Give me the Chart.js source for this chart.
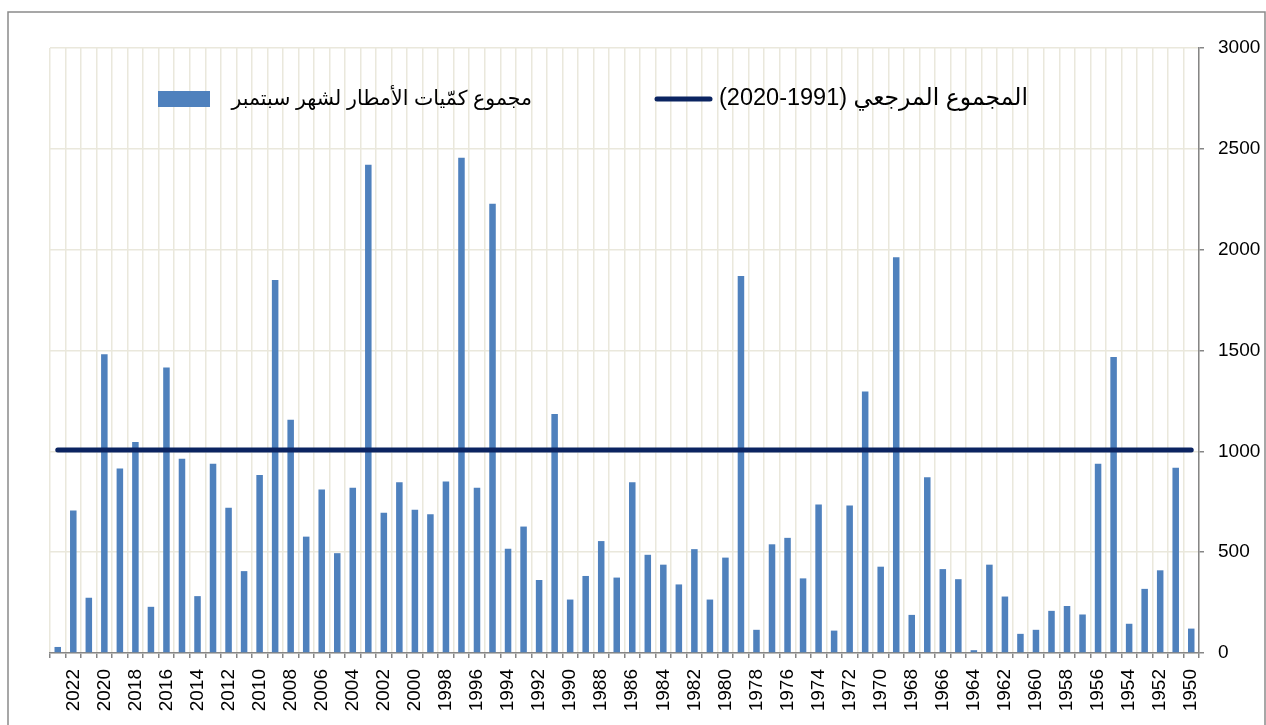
<!DOCTYPE html>
<html>
<head>
<meta charset="utf-8">
<script src="https://cdn.jsdelivr.net/npm/chart.js@4.4.1/dist/chart.umd.min.js"></script>
<style>
  html, body { margin: 0; padding: 0; background: #ffffff; }
  #wrap { width: 1266px; height: 725px; position: relative; }
  canvas { display: block; }
</style>
</head>
<body>
<div id="wrap"><canvas id="c" width="1266" height="725"></canvas></div>
<script>
// Categories (years, left to right as in the reference)
const years = [
  '2023','2022','2021','2020','2019','2018','2017','2016','2015','2014',
  '2013','2012','2011','2010','2009','2008','2007','2006','2005','2004',
  '2003','2002','2001','2000','1999','1998','1997','1996','1995','1994',
  '1993','1992','1991','1990','1989','1988','1987','1986','1985','1984',
  '1983','1982','1981','1980','1979','1978','1977','1976','1975','1974',
  '1973','1972','1971','1970','1969','1968','1967','1966','1965','1964',
  '1963','1962','1961','1960','1959','1958','1957','1956','1955','1954',
  '1953','1952','1951','1950'
];

// September rainfall totals
const septemberTotals = [
  30, 706, 274, 1482, 915, 1046, 229, 1416, 963, 282,
  939, 720, 406, 883, 1850, 1156, 577, 811, 495, 819,
  2421, 696, 847, 710, 688, 851, 2456, 819, 2228, 517,
  627, 362, 1185, 265, 382, 555, 374, 847, 487, 438,
  340, 515, 265, 473, 1870, 115, 539, 571, 370, 736,
  111, 732, 1297, 428, 1963, 189, 871, 416, 366, 14,
  438, 280, 95, 115, 209, 233, 191, 939, 1468, 145,
  318, 410, 919, 121
];

// Reference total (1991-2020)
const referenceValue = 1006;
const referenceSeries = years.map(() => referenceValue);

// Labels
const barLabel = 'مجموع كمّيات الأمطار لشهر سبتمبر';
const lineLabel = 'المجموع المرجعي (1991-2020)';

// Y axis ticks
const yMin = 0, yMax = 3000, yStep = 500;

const FONT = '"Liberation Sans", Arial, "DejaVu Sans", sans-serif';
const BAR_COLOR = '#4F81BD';
const LINE_COLOR = '#0B2461';
const GRID_COLOR = '#EAE8DC';
const AXIS_COLOR = '#868686';

const framePlugin = {
  id: 'frame',
  beforeDraw(chart) {
    const ctx = chart.ctx;
    ctx.save();
    ctx.fillStyle = '#ffffff';
    ctx.fillRect(0, 0, chart.width, chart.height);
    ctx.strokeStyle = '#8a8a8a';
    ctx.lineWidth = 1.5;
    ctx.strokeRect(8, 12, 1257, 740);
    ctx.restore();
  }
};

const legendPlugin = {
  id: 'insideLegend',
  afterDraw(chart) {
    const ctx = chart.ctx;
    ctx.save();
    // bar swatch
    ctx.fillStyle = BAR_COLOR;
    ctx.fillRect(158, 91, 52, 16);
    // line swatch
    ctx.strokeStyle = LINE_COLOR;
    ctx.lineWidth = 5;
    ctx.lineCap = 'round';
    ctx.beginPath();
    ctx.moveTo(657, 99);
    ctx.lineTo(710, 99);
    ctx.stroke();
    // texts
    ctx.fillStyle = '#000000';
    ctx.direction = 'rtl';
    ctx.textAlign = 'right';
    ctx.textBaseline = 'middle';
    ctx.font = '20.5px ' + FONT;
    ctx.fillText(barLabel, 532, 99);
    ctx.font = '23.5px ' + FONT;
    ctx.fillText(lineLabel, 1028, 99);
    ctx.restore();
  }
};

new Chart(document.getElementById('c'), {
  type: 'bar',
  data: {
    labels: years,
    datasets: [
      {
        type: 'line',
        label: lineLabel,
        data: referenceSeries,
        borderColor: LINE_COLOR,
        backgroundColor: LINE_COLOR,
        borderWidth: 5,
        borderCapStyle: 'round',
        pointRadius: 0,
        pointHoverRadius: 0,
        fill: false,
        tension: 0,
        order: 0
      },
      {
        type: 'bar',
        label: barLabel,
        data: septemberTotals,
        backgroundColor: BAR_COLOR,
        borderWidth: 0,
        barPercentage: 0.42,
        categoryPercentage: 1.0,
        order: 1
      }
    ]
  },
  options: {
    responsive: false,
    animation: false,
    devicePixelRatio: 1,
    layout: { padding: { left: 50, top: 48, right: 0, bottom: 0 } },
    plugins: {
      legend: { display: false },
      tooltip: { enabled: false },
      title: { display: false }
    },
    scales: {
      x: {
        offset: true,
        grid: {
          display: true,
          offset: true,
          color: GRID_COLOR,
          lineWidth: 1.5,
          tickColor: AXIS_COLOR,
          tickLength: 5,
          tickWidth: 1.5
        },
        border: { display: true, color: AXIS_COLOR, width: 1.5 },
        ticks: {
          autoSkip: false,
          maxRotation: 90,
          minRotation: 90,
          padding: 11,
          color: '#000000',
          font: { family: FONT, size: 19 },
          callback: function (value, index) {
            const y = years[index];
            return (parseInt(y, 10) % 2 === 0) ? y : '';
          }
        },
        afterFit(scale) { scale.height = 72; }
      },
      y: {
        position: 'right',
        min: yMin,
        max: yMax,
        grid: {
          color: GRID_COLOR,
          lineWidth: 1.5,
          tickColor: AXIS_COLOR,
          tickLength: 5,
          tickWidth: 1.5
        },
        border: { display: true, color: AXIS_COLOR, width: 1.5 },
        ticks: {
          stepSize: yStep,
          padding: 14,
          color: '#000000',
          font: { family: FONT, size: 19 },
          callback: function (value) { return String(value); }
        },
        afterFit(scale) { scale.width = 67; }
      }
    }
  },
  plugins: [framePlugin, legendPlugin]
});
</script>
</body>
</html>
